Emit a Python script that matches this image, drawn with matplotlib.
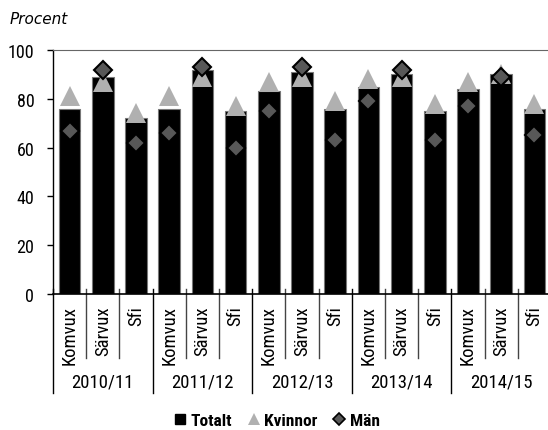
import matplotlib
matplotlib.use("Agg")
import matplotlib.pyplot as plt
from matplotlib.lines import Line2D
from matplotlib.transforms import blended_transform_factory
from matplotlib import font_manager as fm
import numpy as np

years = ["2010/11", "2011/12", "2012/13", "2013/14", "2014/15"]
forms = ["Komvux", "Särvux", "Sfi"]
totalt = [76, 89, 72, 76, 92, 75, 83, 91, 76, 85, 90, 75, 84, 90, 76]
kvinnor = [81, 87, 74, 81, 89, 77, 87, 89, 79, 88, 89, 78, 87, 90, 78]
man = [67, 92, 62, 66, 93, 60, 75, 93, 63, 79, 92, 63, 77, 89, 65]
yticks = [0, 20, 40, 60, 80, 100]


def find_narrow(bold):
    cands = []
    for f in fm.fontManager.ttflist:
        n = f.name.lower()
        path = f.fname.lower()
        narrowish = ("narrow" in n or "condensed" in n or "narrow" in path or "condensed" in path
                     or f.stretch in ("condensed", "semi-condensed", "extra-condensed"))
        if not narrowish:
            continue
        if "italic" in path or "oblique" in path or f.style != "normal":
            continue
        w = f.weight if isinstance(f.weight, int) else (700 if "bold" in str(f.weight) else 400)
        isbold = w >= 600 or "bold" in path
        if isbold != bold:
            continue
        if any(s in path for s in ("light", "thin", "black", "medium", "extra", "semibold")):
            continue
        pri = 5
        if "liberation" in n:
            pri = 0
        elif "roboto" in n:
            pri = 1
        elif "open" in n:
            pri = 2
        elif "dejavu" in n:
            pri = 3
        cands.append((pri, f.fname))
    cands.sort()
    if cands:
        return fm.FontProperties(fname=cands[0][1])
    return fm.FontProperties(family="DejaVu Sans", weight="bold" if bold else "normal")


fp = find_narrow(False)
fpb = find_narrow(True)


def prop(base, size):
    p = base.copy()
    p.set_size(size)
    return p


W, H = 548, 431
fig = plt.figure(figsize=(W / 100, H / 100), dpi=100)

L, R, T, B = 53, 551, 51, 295
ax = fig.add_axes([L / W, (H - B) / H, (R - L) / W, (B - T) / H])

x = np.arange(len(totalt))
ax.bar(x, totalt, width=0.65, color="black", edgecolor="#777777", linewidth=0.8, zorder=2)
ax.plot(x, kvinnor, linestyle="none", marker="^", markersize=14, color="#b0b0b0",
        markeredgewidth=0, zorder=3)
ax.plot(x, man, linestyle="none", marker="D", markersize=9, markerfacecolor="#585858",
        markeredgecolor="black", markeredgewidth=1.5, zorder=4)

ax.set_xlim(-0.5, len(totalt) - 0.5)
ax.set_ylim(0, 100)
ax.set_yticks(yticks)
ax.set_yticklabels([str(v) for v in yticks], fontproperties=prop(fp, 13))
ax.tick_params(axis="y", direction="out", length=4, width=1, pad=9.5)
ax.set_xticks([])
ax.spines["right"].set_visible(False)
ax.spines["top"].set_color("#666666")
ax.spines["left"].set_color("black")
ax.spines["bottom"].set_color("black")
ax.spines["left"].set_linewidth(1)
ax.spines["bottom"].set_linewidth(1.2)

tr = blended_transform_factory(ax.transData, fig.transFigure)


def fy(py):
    return (H - py) / H


for i in range(len(totalt)):
    ax.text(i, fy(306), forms[i % 3], rotation=90, ha="center", va="top",
            transform=tr, fontproperties=prop(fp, 13.5))
for k in range(len(totalt) + 1):
    xs = k - 0.5
    if k % 3 == 0:
        y0, y1, c = 290, 394, "black"
    else:
        y0, y1, c = 290, 359, "#444444"
    ax.add_line(Line2D([xs, xs], [fy(y0), fy(y1)], color=c, linewidth=1,
                       transform=tr, clip_on=False))
for g, yr in enumerate(years):
    ax.text(g * 3 + 1, fy(383), yr, ha="center", va="center",
            transform=tr, fontproperties=prop(fp, 13.5))

fig.text(10 / W, fy(20), "Procent", ha="left", va="center", fontsize=11,
         style="italic", family="DejaVu Sans")

handles = [
    Line2D([], [], linestyle="none", marker="s", markersize=7.2, color="black"),
    Line2D([], [], linestyle="none", marker="^", markersize=8, color="#b0b0b0", markeredgewidth=0),
    Line2D([], [], linestyle="none", marker="D", markersize=6, markerfacecolor="#585858",
           markeredgecolor="black", markeredgewidth=1.2),
]
fig.legend(handles, ["Totalt", "Kvinnor", "Män"], loc="center",
           bbox_to_anchor=(277 / W, fy(421)), ncol=3, frameon=False,
           handlelength=0.7, handletextpad=0.25, columnspacing=0.9, prop=prop(fpb, 12.5))

fig.savefig("out.png", dpi=100)
